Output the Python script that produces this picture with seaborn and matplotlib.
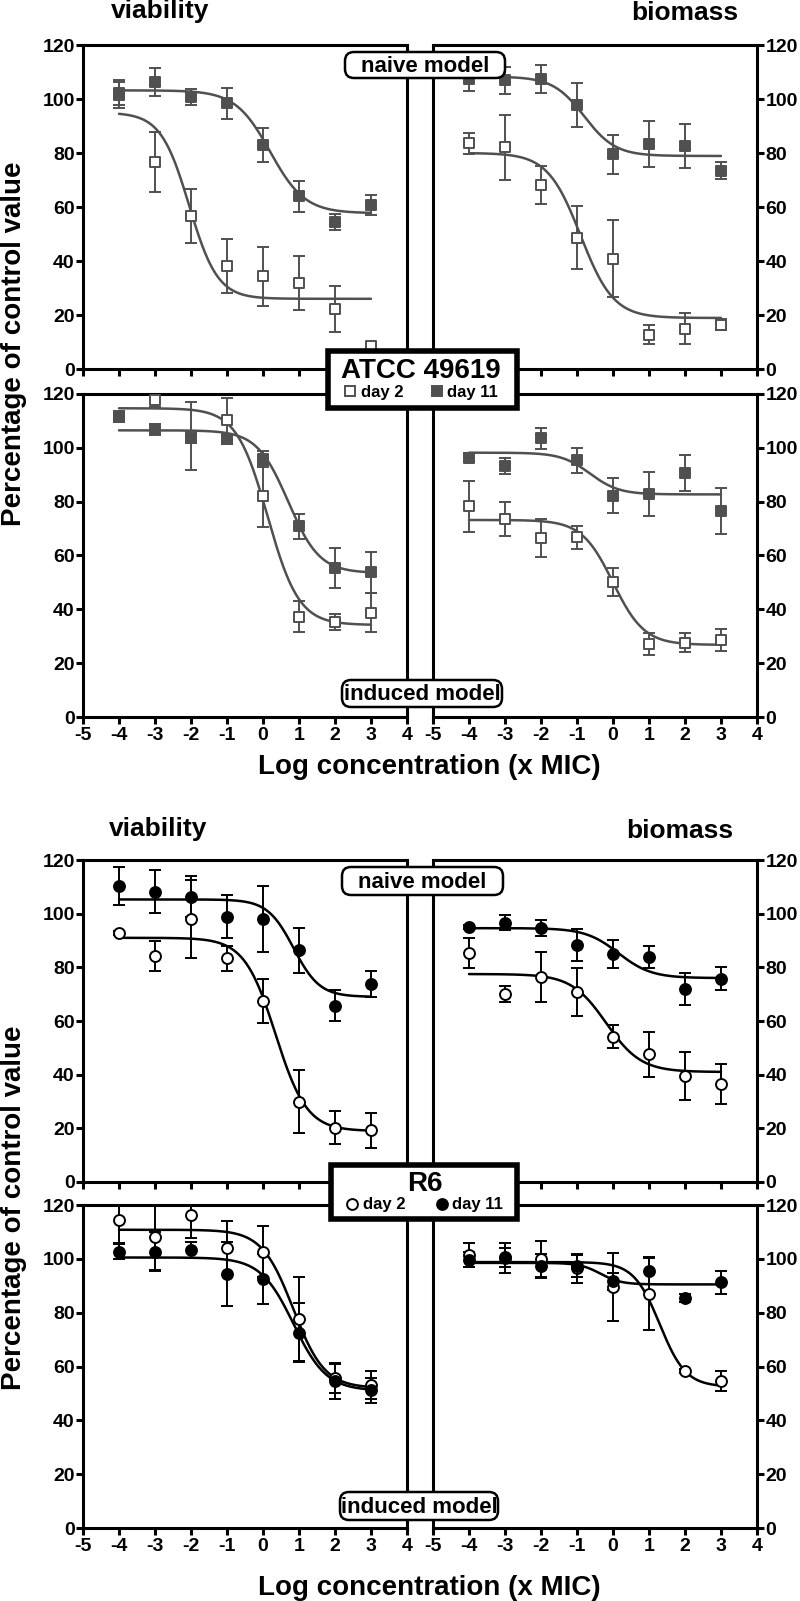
"""
Dose-response panels: viability and biomass of ATCC 49619 and R6 biofilms,
naive vs induced model, day 2 vs day 11. Curves are the 4-parameter
logistic fits; their parameters (top, bottom, logEC50, hill) were read
off the published figure.
"""
import numpy as np
import matplotlib
matplotlib.use("Agg")
import matplotlib.pyplot as plt
from matplotlib.lines import Line2D
from matplotlib.patches import FancyBboxPatch, Rectangle
import seaborn as sns

# -- data (log concentration, x MIC) --
log_conc = [-4, -3, -2, -1, 0, 1, 2, 3]
day_labels = ["day 2", "day 11"]

# ATCC 49619 - viability, naive model
atcc_via_naive_d2 = [101.5, 76.6, 56.5, 38.0, 34.3, 31.8, 22.2, 8.6]
atcc_via_naive_d2_err = [4.7, 11.0, 10.0, 10.0, 11.0, 10.0, 8.5, 1.5]
atcc_via_naive_d2_fit = [95.0, 26.0, -2.05, 1.1]
atcc_via_naive_d11 = [102.4, 106.2, 100.6, 98.4, 83.0, 63.9, 54.3, 60.8]
atcc_via_naive_d11_err = [4.5, 5.2, 3.0, 5.7, 6.3, 5.8, 3.0, 3.7]
atcc_via_naive_d11_fit = [103.2, 57.7, 0.2, 0.9]

# ATCC 49619 - biomass, naive model
atcc_bio_naive_d2 = [83.6, 82.1, 68.0, 48.7, 40.8, 12.7, 14.9, 16.4]
atcc_bio_naive_d2_err = [3.8, 12.0, 7.0, 11.6, 14.2, 3.5, 5.8, 2.0]
atcc_bio_naive_d2_fit = [80.0, 18.9, -0.9, 0.95]
atcc_bio_naive_d11 = [107.3, 107.0, 107.4, 97.8, 79.5, 83.4, 82.6, 73.5]
atcc_bio_naive_d11_err = [4.5, 5.0, 5.2, 8.0, 7.3, 8.5, 8.2, 3.3]
atcc_bio_naive_d11_fit = [108.3, 78.9, -0.8, 1.0]

# ATCC 49619 - viability, induced model
atcc_via_ind_d2 = [111.5, 117.7, 104.5, 110.5, 82.2, 37.2, 35.3, 38.8]
atcc_via_ind_d2_err = [2.0, 2.5, 12.7, 8.0, 11.5, 5.8, 3.0, 7.3]
atcc_via_ind_d2_fit = [114.7, 34.2, 0.13, 1.0]
atcc_via_ind_d11 = [111.5, 106.9, 103.8, 103.1, 95.7, 70.9, 55.4, 53.7]
atcc_via_ind_d11_err = [1.0, 2.0, 2.0, 1.7, 3.0, 4.6, 7.4, 7.6]
atcc_via_ind_d11_fit = [106.5, 53.5, 0.7, 1.0]

# ATCC 49619 - biomass, induced model
atcc_bio_ind_d2 = [78.3, 73.5, 66.5, 66.7, 50.2, 27.0, 27.6, 28.5]
atcc_bio_ind_d2_err = [9.4, 6.3, 7.1, 4.4, 5.2, 4.1, 3.6, 4.1]
atcc_bio_ind_d2_fit = [73.2, 26.8, 0.0, 1.0]
atcc_bio_ind_d11 = [96.4, 93.2, 103.5, 95.4, 82.2, 82.8, 90.7, 76.5]
atcc_bio_ind_d11_err = [1.7, 3.0, 3.9, 4.6, 6.5, 8.2, 6.7, 8.5]
atcc_bio_ind_d11_fit = [98.2, 82.7, -0.64, 1.08]

# R6 - viability, naive model
r6_via_naive_d2 = [92.9, 84.2, 98.0, 83.3, 67.5, 29.9, 20.3, 19.3]
r6_via_naive_d2_err = [0.8, 5.6, 14.4, 4.5, 8.2, 11.8, 6.3, 6.6]
r6_via_naive_d2_fit = [91.0, 19.0, 0.35, 1.0]
r6_via_naive_d11 = [110.3, 108.2, 106.3, 98.9, 98.0, 86.4, 65.7, 73.8]
r6_via_naive_d11_err = [7.0, 8.0, 7.7, 8.0, 12.4, 8.4, 5.8, 4.9]
r6_via_naive_d11_fit = [105.3, 69.0, 0.85, 1.2]

# R6 - biomass, naive model
r6_bio_naive_d2 = [85.4, 69.9, 76.3, 70.8, 54.2, 47.6, 39.6, 36.5]
r6_bio_naive_d2_err = [5.6, 3.0, 9.3, 9.1, 4.2, 8.4, 8.9, 7.3]
r6_bio_naive_d2_fit = [77.5, 41.0, -0.19, 0.9]
r6_bio_naive_d11 = [94.9, 96.7, 94.6, 88.2, 85.0, 83.8, 72.0, 75.7]
r6_bio_naive_d11_err = [0.8, 2.8, 3.1, 6.0, 5.2, 4.1, 6.0, 4.3]
r6_bio_naive_d11_fit = [94.6, 76.0, 0.15, 0.95]

# R6 - viability, induced model
r6_via_ind_d2 = [114.5, 108.0, 116.3, 104.0, 102.7, 77.6, 55.7, 53.2]
r6_via_ind_d2_err = [8.5, 12.0, 8.6, 10.0, 9.6, 15.6, 5.6, 5.3]
r6_via_ind_d2_fit = [110.8, 52.0, 0.84, 1.0]
r6_via_ind_d11 = [102.7, 102.7, 103.3, 94.4, 92.6, 72.6, 54.5, 51.1]
r6_via_ind_d11_err = [2.8, 7.2, 3.0, 12.0, 9.2, 11.0, 6.5, 4.5]
r6_via_ind_d11_fit = [100.5, 51.0, 0.85, 0.95]

# R6 - biomass, induced model
r6_bio_ind_d2 = [101.5, 100.2, 99.9, 96.5, 89.5, 86.9, 58.2, 54.5]
r6_bio_ind_d2_err = [4.5, 5.5, 6.8, 5.4, 12.5, 13.5, 0.8, 3.7]
r6_bio_ind_d2_fit = [98.8, 52.5, 1.3, 1.2]
r6_bio_ind_d11 = [99.6, 100.6, 97.4, 97.4, 91.6, 95.5, 85.4, 91.3]
r6_bio_ind_d11_err = [2.8, 3.5, 4.5, 4.0, 3.0, 5.0, 1.5, 4.3]
r6_bio_ind_d11_fit = [98.5, 90.5, -0.35, 1.5]

# -- styles --
W, H = 800, 1601
STRAIN_COLOR = {"atcc": "#505050", "r6": "black"}
STRAIN_MARKER = {"atcc": "s", "r6": "o"}
STRAIN_S = {"atcc": 46, "r6": 62}
STRAIN_MS = {"atcc": 6.8, "r6": 7.8}
STRAIN_NAME = {"atcc": "ATCC 49619", "r6": "R6"}


def four_pl(x, top, bottom, log_ec50, hill):
    return bottom + (top - bottom) / (1 + 10 ** ((x - log_ec50) * hill))


def frac_rect(x0, y_top, x1, y_bot):
    """Pixel box (origin top-left) -> figure fraction rect."""
    return [x0 / W, 1 - y_bot / H, (x1 - x0) / W, (y_bot - y_top) / H]


def draw_panel(ax, strain, side, show_xlabels, series):
    color = STRAIN_COLOR[strain]
    xs = np.linspace(log_conc[0], log_conc[-1], 300)
    faces = ["white", color]
    for (mean, err, fit), face in zip(series, faces):
        sns.lineplot(x=xs, y=four_pl(xs, *fit), color=color, linewidth=1.8,
                     ax=ax, zorder=2)
        ax.errorbar(log_conc, mean, yerr=err, fmt="none", ecolor=color,
                    elinewidth=1.4, capsize=4.6, capthick=1.4, zorder=2.5)
        sns.scatterplot(x=log_conc, y=mean, marker=STRAIN_MARKER[strain],
                        s=STRAIN_S[strain], facecolor=face, edgecolor=color,
                        linewidth=1.4, ax=ax, zorder=3)

    ax.set_xlim(-5, 4)
    ax.set_ylim(0, 120)
    ax.set_xticks(range(-5, 5))
    ax.set_yticks(range(0, 121, 20))
    ax.set(xlabel="", ylabel="")
    ax.tick_params(axis="both", direction="out", length=5, width=2.2,
                   colors="black", labelsize=14)
    ax.tick_params(axis="x", labelbottom=show_xlabels, pad=2)
    if side == "right":
        ax.tick_params(axis="y", left=False, labelleft=False,
                       right=True, labelright=True, pad=1)
    else:
        ax.tick_params(axis="y", pad=1)
    for sp in ax.spines.values():
        sp.set_visible(True)
        sp.set_linewidth(2.2)
        sp.set_color("black")


sns.set_theme(style="ticks")
plt.rcParams["font.family"] = ["Liberation Sans", "DejaVu Sans"]
plt.rcParams["font.weight"] = "bold"
plt.rcParams["axes.unicode_minus"] = False
plt.rcParams["text.color"] = "black"

fig = plt.figure(figsize=(W / 100, H / 100), dpi=100)

panels = [
    ("atcc", "left", False, frac_rect(83, 45, 407, 369),
     [(atcc_via_naive_d2, atcc_via_naive_d2_err, atcc_via_naive_d2_fit),
      (atcc_via_naive_d11, atcc_via_naive_d11_err, atcc_via_naive_d11_fit)]),
    ("atcc", "right", False, frac_rect(433, 45, 757, 369),
     [(atcc_bio_naive_d2, atcc_bio_naive_d2_err, atcc_bio_naive_d2_fit),
      (atcc_bio_naive_d11, atcc_bio_naive_d11_err, atcc_bio_naive_d11_fit)]),
    ("atcc", "left", True, frac_rect(83, 394, 407, 717),
     [(atcc_via_ind_d2, atcc_via_ind_d2_err, atcc_via_ind_d2_fit),
      (atcc_via_ind_d11, atcc_via_ind_d11_err, atcc_via_ind_d11_fit)]),
    ("atcc", "right", True, frac_rect(433, 394, 757, 717),
     [(atcc_bio_ind_d2, atcc_bio_ind_d2_err, atcc_bio_ind_d2_fit),
      (atcc_bio_ind_d11, atcc_bio_ind_d11_err, atcc_bio_ind_d11_fit)]),
    ("r6", "left", False, frac_rect(83, 860, 407, 1182),
     [(r6_via_naive_d2, r6_via_naive_d2_err, r6_via_naive_d2_fit),
      (r6_via_naive_d11, r6_via_naive_d11_err, r6_via_naive_d11_fit)]),
    ("r6", "right", False, frac_rect(433, 860, 757, 1182),
     [(r6_bio_naive_d2, r6_bio_naive_d2_err, r6_bio_naive_d2_fit),
      (r6_bio_naive_d11, r6_bio_naive_d11_err, r6_bio_naive_d11_fit)]),
    ("r6", "left", True, frac_rect(83, 1205, 407, 1528),
     [(r6_via_ind_d2, r6_via_ind_d2_err, r6_via_ind_d2_fit),
      (r6_via_ind_d11, r6_via_ind_d11_err, r6_via_ind_d11_fit)]),
    ("r6", "right", True, frac_rect(433, 1205, 757, 1528),
     [(r6_bio_ind_d2, r6_bio_ind_d2_err, r6_bio_ind_d2_fit),
      (r6_bio_ind_d11, r6_bio_ind_d11_err, r6_bio_ind_d11_fit)]),
]

for strain, side, show_xlabels, rect, series in panels:
    ax = fig.add_axes(rect)
    draw_panel(ax, strain, side, show_xlabels, series)

# -- overlay in pixel coordinates for the shared labels --
ov = fig.add_axes([0, 0, 1, 1], zorder=10)
ov.set_xlim(0, W)
ov.set_ylim(H, 0)
ov.axis("off")

blocks = {
    "atcc": dict(titles=((160, 11), (685, 13)), ylabel_y=344, xlabel_y=767,
                 naive=(345, 52, 505, 78), induced=(342, 680, 502, 707),
                 box=(325, 348, 520, 411), box_title=(421, 371),
                 entries=(343.3, 392), colspace=1.6),
    "r6": dict(titles=((158, 829), (680, 831)), ylabel_y=1208, xlabel_y=1588,
               naive=(342, 867, 503, 895), induced=(340, 1492, 498, 1520),
               box=(328, 1162, 520, 1222), box_title=(425, 1184),
               entries=(345.3, 1205), colspace=1.78),
}

for strain, b in blocks.items():
    for (tx, ty), label in zip(b["titles"], ["viability", "biomass"]):
        ov.text(tx, ty, label, ha="center", va="center", fontsize=19,
                fontweight="bold")
    ov.text(14, b["ylabel_y"], "Percentage of control value", rotation=90,
            ha="center", va="center", fontsize=20, fontweight="bold")
    ov.text(429, b["xlabel_y"], "Log concentration (x MIC)", ha="center",
            va="center", fontsize=20, fontweight="bold")
    for key, label in [("naive", "naive model"), ("induced", "induced model")]:
        x0, y0, x1, y1 = b[key]
        ov.add_patch(FancyBboxPatch((x0, y0), x1 - x0, y1 - y0,
                                    boxstyle="round,pad=0,rounding_size=9",
                                    fc="white", ec="black", lw=1.8))
        ov.text((x0 + x1) / 2, (y0 + y1) / 2 + 1, label, ha="center",
                va="center", fontsize=16, fontweight="bold")

    # strain box: thick frame, strain name, day 2 / day 11 key
    bx0, by0, bx1, by1 = b["box"]
    inset = 2.8
    ov.add_patch(Rectangle((bx0 + inset, by0 + inset),
                           bx1 - bx0 - 2 * inset, by1 - by0 - 2 * inset,
                           fc="white", ec="black", lw=4, zorder=5))
    ov.text(*b["box_title"], STRAIN_NAME[strain], ha="center", va="center",
            fontsize=20, fontweight="bold", zorder=6)

    color = STRAIN_COLOR[strain]
    handles = [Line2D([], [], ls="none", marker=STRAIN_MARKER[strain],
                      markersize=STRAIN_MS[strain], mfc=face, mec=color,
                      mew=1.4) for face in ("white", color)]
    ex, ey = b["entries"]
    leg = fig.legend(handles, day_labels, loc="center left",
                     bbox_to_anchor=(ex / W, 1 - ey / H), ncol=2,
                     prop={"weight": "bold", "size": 12}, frameon=False,
                     borderpad=0, borderaxespad=0, handlelength=0.8,
                     handletextpad=0.25, columnspacing=b["colspace"])
    leg.set_zorder(20)

fig.savefig("out.png", dpi=100)
plt.close(fig)
